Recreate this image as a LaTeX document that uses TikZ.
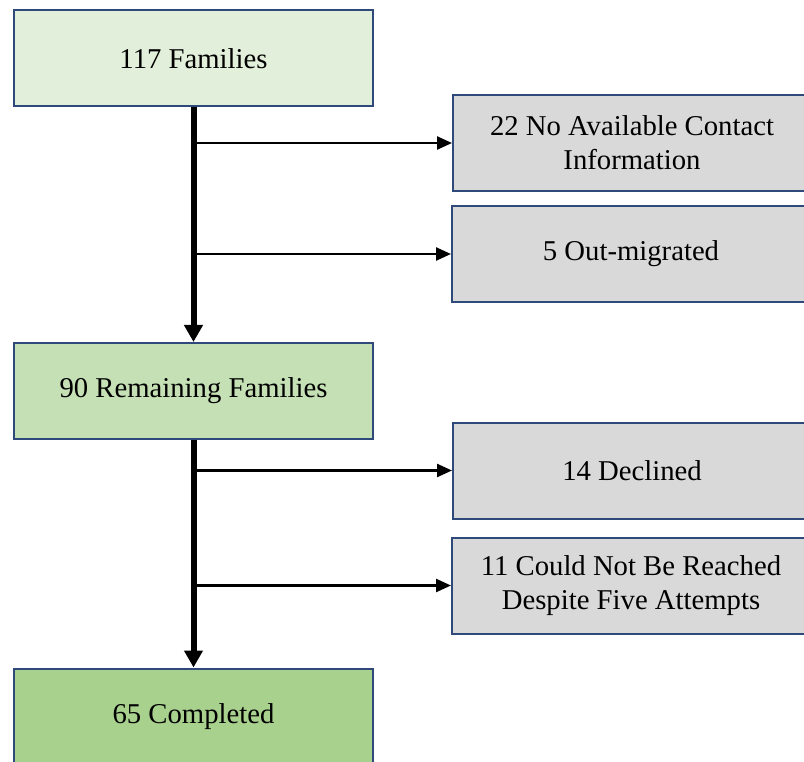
\documentclass[tikz,border=0pt]{standalone}
\usepackage{fontspec}
\setmainfont{Liberation Serif}
\newfontfamily\boxfont{Liberation Serif}
\usetikzlibrary{arrows.meta}
\definecolor{navy}{HTML}{2F4A7A}
\definecolor{gA}{HTML}{E2EFDA}
\definecolor{gB}{HTML}{C5E0B4}
\definecolor{gC}{HTML}{A9D18E}
\definecolor{grayfill}{HTML}{D9D9D9}
\tikzset{
  mainbox/.style={draw=navy, line width=2pt, minimum width=359pt, minimum height=96pt, inner sep=0pt, align=center, font=\boxfont\fontsize{28.7}{34}\selectfont},
  sidebox/.style={mainbox, fill=grayfill, minimum width=358pt},
  trunk/.style={line width=6pt, -{Triangle[length=17pt,width=18pt]}},
  branch/.style={line width=2.4pt, -{Triangle[length=15pt,width=13pt]}}
}
\begin{document}
\begin{tikzpicture}[x=1pt,y=-1pt]
\useasboundingbox (0,0) rectangle (804,762);
\clip (0,0) rectangle (804,762);
\fill[white] (0,0) rectangle (804,762);
\node[mainbox, fill=gA] (fam) at (193.5,58.5) {117 Families};
\node[mainbox, fill=gB] (rem) at (193.5,391) {90 Remaining Families};
\node[mainbox, fill=gC] (comp) at (193.5,716.5) {65 Completed};
\node[sidebox] (nocontact) at (632,143) {22 No Available Contact\\Information};
\node[sidebox] (outmig) at (631,254) {5 Out-migrated};
\node[sidebox] (declined) at (632,470.5) {14 Declined};
\node[sidebox] (notreached) at (631,585.5) {11 Could Not Be Reached\\Despite Five Attempts};
\draw[trunk] (fam.south) -- (rem.north);
\draw[trunk] (rem.south) -- (comp.north);
\draw[branch] (fam.south |- nocontact.west) -- (nocontact.west);
\draw[branch] (fam.south |- outmig.west) -- (outmig.west);
\draw[branch] (rem.south |- declined.west) -- (declined.west);
\draw[branch] (rem.south |- notreached.west) -- (notreached.west);
\end{tikzpicture}
\end{document}
